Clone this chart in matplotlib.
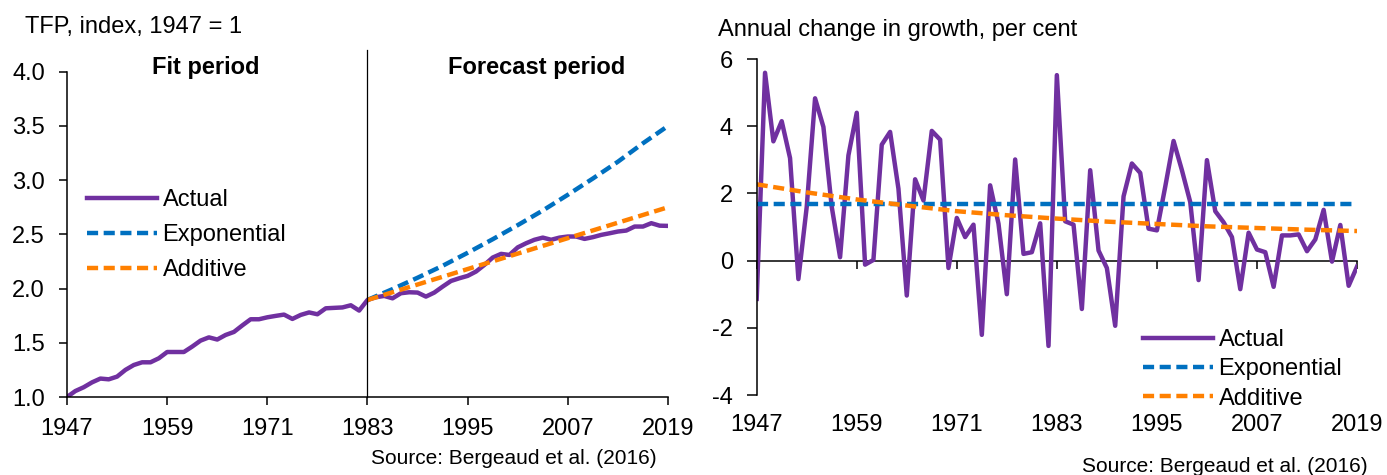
import matplotlib
matplotlib.use("Agg")
import matplotlib.pyplot as plt

plt.rcParams["font.family"] = ["Liberation Sans", "DejaVu Sans"]
plt.rcParams["font.size"] = 17
plt.rcParams["axes.unicode_minus"] = False

# ---- data -------------------------------------------------------------
years = list(range(1947, 2020))

tfp_index = [
    1.0, 1.055, 1.09, 1.135, 1.17, 1.163, 1.188, 1.25, 1.295, 1.32,
    1.32, 1.357, 1.415, 1.415, 1.415, 1.465, 1.52, 1.55, 1.53, 1.572,
    1.60, 1.66, 1.717, 1.717, 1.735, 1.748, 1.76, 1.72, 1.757, 1.78,
    1.763, 1.818, 1.822, 1.826, 1.846, 1.797, 1.895,
    1.92, 1.932, 1.91, 1.957, 1.966, 1.963, 1.926, 1.963, 2.018, 2.07,
    2.095, 2.117, 2.157, 2.218, 2.286, 2.32, 2.31, 2.38, 2.418, 2.45,
    2.47, 2.45, 2.47, 2.48, 2.48, 2.458, 2.474, 2.495, 2.51, 2.526,
    2.535, 2.572, 2.572, 2.603, 2.58, 2.578,
]

tfp_growth = [
    -1.14, 5.59, 3.55, 4.15, 3.05, -0.55, 1.6, 4.83, 3.98, 1.6,
    0.1, 3.13, 4.4, -0.12, 0.02, 3.45, 3.83, 2.14, -1.04, 2.42,
    1.79, 3.86, 3.6, -0.22, 1.27, 0.7, 1.07, -2.21, 2.24, 1.1,
    -1.0, 3.01, 0.2, 0.25, 1.11, -2.54, 5.52, 1.17, 1.07, -1.44,
    2.69, 0.3, -0.22, -1.94, 1.91, 2.89, 2.61, 0.95, 0.9, 2.2,
    3.56, 2.69, 1.74, -0.58, 2.99, 1.47, 1.14, 0.7, -0.85, 0.83,
    0.33, 0.25, -0.78, 0.75, 0.75, 0.78, 0.28, 0.63, 1.51, -0.03,
    1.06, -0.75, -0.18,
]

# forecasts of the index from 1983 on
exp_years = [1983, 1986, 1989, 1992, 1995, 1998, 2001, 2004, 2007, 2010, 2013, 2016, 2019]
exp_index = [1.895, 1.995, 2.10, 2.21, 2.33, 2.455, 2.585, 2.72, 2.865, 3.015, 3.17, 3.34, 3.50]
add_years = [1983, 1995, 2007, 2019]
add_index = [1.895, 2.18, 2.465, 2.75]

# growth rates implied by each fitted model
exp_growth_years = [1947, 2019]
exp_growth = [1.67, 1.67]
add_growth_years = [1947, 1953, 1959, 1965, 1971, 1977, 1983, 1989, 1995, 2001, 2007, 2013, 2019]
add_growth = [2.27, 2.03, 1.82, 1.64, 1.47, 1.35, 1.25, 1.16, 1.09, 1.02, 0.97, 0.92, 0.88]

year_ticks = [1947, 1959, 1971, 1983, 1995, 2007, 2019]
split_year = 1983

PURPLE = "#7030A0"
BLUE = "#0070C0"
ORANGE = "#FF8000"

W, H = 1387, 475
fig = plt.figure(figsize=(W / 100, H / 100), dpi=100)

LW = 3.2
DASH = (2.5, 1.25)


def px_box(x0, y_top, x1, y_bot):
    return [x0 / W, 1 - y_bot / H, (x1 - x0) / W, (y_bot - y_top) / H]


# ---- left panel: TFP index -------------------------------------------
ax1 = fig.add_axes(px_box(67, 71.7, 668, 397))
ax1.plot(years, tfp_index, color=PURPLE, lw=LW, label="Actual", solid_joinstyle="round")
ax1.plot(exp_years, exp_index, color=BLUE, lw=LW, dashes=DASH, label="Exponential")
ax1.plot(add_years, add_index, color=ORANGE, lw=LW, dashes=DASH, label="Additive")
ax1.set_xlim(1947, 2019)
ax1.set_ylim(1.0, 4.0)
ax1.set_xticks(year_ticks)
ax1.set_yticks([1.0, 1.5, 2.0, 2.5, 3.0, 3.5, 4.0])
ax1.set_yticklabels([f"{v:.1f}" for v in ax1.get_yticks()])
for s in ("top", "right"):
    ax1.spines[s].set_visible(False)
for s in ("left", "bottom"):
    ax1.spines[s].set_linewidth(1.1)
ax1.tick_params(axis="y", direction="out", length=6, width=1.1, pad=10)
ax1.tick_params(axis="x", direction="out", length=6, width=1.1, pad=9)
ax1.axvline(split_year, ymin=0, ymax=1.067, color="black", lw=0.9, clip_on=False)
ax1.text(1963.6, 1.0144, "Fit period", transform=ax1.get_xaxis_transform(),
         ha="center", va="center", fontweight="bold")
ax1.text(2003.3, 1.0144, "Forecast period", transform=ax1.get_xaxis_transform(),
         ha="center", va="center", fontweight="bold")
ax1.legend(loc="upper left", bbox_to_anchor=(87 / W, 1 - 189 / H),
           bbox_transform=fig.transFigure, frameon=False, borderpad=0,
           borderaxespad=0, handlelength=2.95, handletextpad=0.25,
           labelspacing=0.55)
fig.text(25 / W, 1 - 27 / H, "TFP, index, 1947 = 1", ha="left", va="center")
fig.text(657 / W, 1 - 459 / H, "Source: Bergeaud et al. (2016)",
         ha="right", va="center", fontsize=15)

# ---- right panel: annual growth --------------------------------------
ax2 = fig.add_axes(px_box(756.7, 59, 1357, 395))
ax2.plot(years, tfp_growth, color=PURPLE, lw=LW, label="Actual", solid_joinstyle="round")
ax2.plot(exp_growth_years, exp_growth, color=BLUE, lw=LW, dashes=DASH, label="Exponential")
ax2.plot(add_growth_years, add_growth, color=ORANGE, lw=LW, dashes=DASH, label="Additive")
ax2.set_xlim(1947, 2019)
ax2.set_ylim(-4, 6)
ax2.set_yticks([-4, -2, 0, 2, 4, 6])
ax2.set_xticks(year_ticks)
for s in ("top", "right", "bottom"):
    ax2.spines[s].set_visible(False)
ax2.spines["left"].set_linewidth(1.1)
ax2.tick_params(axis="y", direction="out", length=7, width=1.1, pad=10)
ax2.tick_params(axis="x", length=0, pad=14)

# zero line carrying the year tick marks
ymin, ymax = ax2.get_ylim()
zero_axis = ax2.secondary_xaxis((0 - ymin) / (ymax - ymin))
zero_axis.set_xticks(year_ticks)
zero_axis.tick_params(axis="x", direction="out", length=6, width=1.1, labelbottom=False)
zero_axis.spines["bottom"].set_linewidth(1.1)

ax2.legend(loc="upper left", bbox_to_anchor=(1143 / W, 1 - 329 / H),
           bbox_transform=fig.transFigure, frameon=False, borderpad=0,
           borderaxespad=0, handlelength=2.95, handletextpad=0.25,
           labelspacing=0.31)
fig.text(718 / W, 1 - 30 / H, "Annual change in growth, per cent", ha="left", va="center")
fig.text(1368 / W, 1 - 467 / H, "Source: Bergeaud et al. (2016)",
         ha="right", va="center", fontsize=15)

fig.savefig("out.png", dpi=100)
